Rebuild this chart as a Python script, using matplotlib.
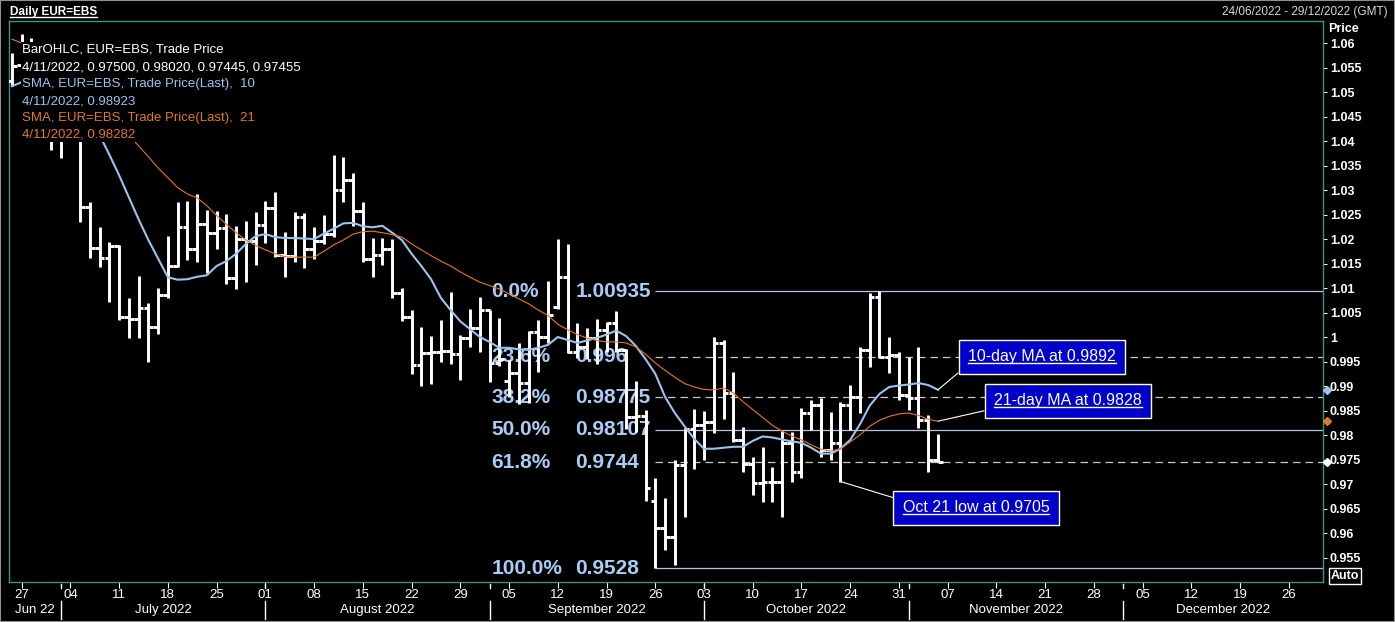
import numpy as np
import pandas as pd
import matplotlib
matplotlib.use("Agg")
import matplotlib.pyplot as plt
from matplotlib.patches import Rectangle
from matplotlib.lines import Line2D
from matplotlib.text import Text
from matplotlib.ticker import FuncFormatter

W, H = 1395, 622

# trading days shown on the axis (24/06/2022 - 29/12/2022)
days = pd.bdate_range("2022-06-24", "2022-12-29")

# daily OHLC, 24 Jun - 4 Nov 2022
opens = [1.0522, 1.0555, 1.0583, 1.0518, 1.0441, 1.0484, 1.0426, 1.0424, 1.0265, 1.0182, 1.0161,
         1.0185, 1.0040, 1.0037, 1.0060, 1.0020,
         1.0085, 1.0145, 1.0225, 1.0180, 1.0230,
         1.0212, 1.0222, 1.0120, 1.0200, 1.0195,
         1.0228, 1.0263, 1.0168, 1.0165, 1.0245,
         1.0180, 1.0195, 1.0210, 1.0300, 1.0320,
         1.0258, 1.0160, 1.0168, 1.0180, 1.0090,
         1.0040, 0.9943, 0.9967, 0.9970, 0.9972,
         0.9965, 0.9998, 1.0018, 1.0055, 0.9946,
         0.9910, 0.9927, 0.9906, 1.0010, 1.0000,
         1.0062, 1.0122, 0.9970, 0.9980, 0.9998,
         1.0014, 1.0028, 0.9973, 0.9837, 0.9838,
         0.9665, 0.9610, 0.9592, 0.9739, 0.9812,
         0.9820, 0.9826, 0.9988, 0.9886, 0.9790,
         0.9740, 0.9702, 0.9705, 0.9704, 0.9784,
         0.9724, 0.9845, 0.9861, 0.9769, 0.9784,
         0.9862, 0.9878, 0.9973, 1.0082, 0.9959,
         0.9963, 0.9882, 0.9876, 0.9831, 0.9750]
highs = [1.0580, 1.0618, 1.0610, 1.0530, 1.0488, 1.0486, 1.0463, 1.0428, 1.0275, 1.0225, 1.0194,
         1.0188, 1.0080, 1.0124, 1.0069, 1.0100,
         1.0206, 1.0275, 1.0278, 1.0292, 1.0260,
         1.0258, 1.0252, 1.0227, 1.0236, 1.0256,
         1.0278, 1.0296, 1.0215, 1.0256, 1.0254,
         1.0224, 1.0250, 1.0372, 1.0368, 1.0334,
         1.0275, 1.0202, 1.0203, 1.0200, 1.0100,
         1.0055, 1.0020, 1.0003, 1.0034, 1.0091,
         1.0004, 1.0058, 1.0081, 1.0056, 1.0038,
         0.9953, 0.9988, 1.0013, 1.0034, 1.0114,
         1.0200, 1.0190, 1.0029, 1.0018, 1.0037,
         1.0031, 1.0053, 0.9975, 0.9910, 0.9851,
         0.9712, 0.9671, 0.9749, 0.9815, 0.9854,
         0.9848, 1.0000, 0.9994, 0.9929, 0.9816,
         0.9755, 0.9776, 0.9734, 0.9808, 0.9806,
         0.9855, 0.9872, 0.9875, 0.9847, 0.9868,
         0.9902, 0.9980, 1.0090, 1.00935, 1.0000,
         0.9969, 0.9959, 0.9980, 0.9841, 0.9802]
lows = [1.0512, 1.0548, 1.0508, 1.0437, 1.0382, 1.0366, 1.0410, 1.0235, 1.0162, 1.0143, 1.0071,
        1.0035, 0.9999, 0.9998, 0.9950, 1.0007,
        1.0080, 1.0143, 1.0157, 1.0153, 1.0130,
        1.0180, 1.0108, 1.0097, 1.0112, 1.0146,
        1.0192, 1.0163, 1.0122, 1.0153, 1.0141,
        1.0160, 1.0190, 1.0205, 1.0276, 1.0226,
        1.0153, 1.0122, 1.0147, 1.0080, 1.0032,
        0.9924, 0.9900, 0.9905, 0.9948, 0.9945,
        0.9912, 0.9980, 0.9970, 0.9908, 0.9940,
        0.9877, 0.9863, 0.9865, 0.9928, 0.9988,
        1.0058, 0.9967, 0.9958, 0.9956, 0.9944,
        0.9969, 0.9970, 0.9812, 0.9806, 0.9665,
        0.9528, 0.9565, 0.9535, 0.9633, 0.9731,
        0.9750, 0.9805, 0.9833, 0.9786, 0.9724,
        0.9678, 0.9664, 0.9664, 0.9632, 0.9704,
        0.9712, 0.9810, 0.9755, 0.9749, 0.9705,
        0.9810, 0.9845, 0.9939, 0.9957, 0.9927,
        0.9871, 0.9851, 0.9814, 0.9725, 0.97445]
closes = [1.0554, 1.0583, 1.0518, 1.0441, 1.0484, 1.0426, 1.0424, 1.0265, 1.0182, 1.0161, 1.0185,
          1.0040, 1.0037, 1.0060, 1.0020, 1.0085,
          1.0145, 1.0225, 1.0180, 1.0230, 1.0212,
          1.0222, 1.0120, 1.0200, 1.0195, 1.0228,
          1.0263, 1.0168, 1.0165, 1.0245, 1.0180,
          1.0195, 1.0210, 1.0300, 1.0320, 1.0258,
          1.0160, 1.0168, 1.0180, 1.0090, 1.0040,
          0.9943, 0.9967, 0.9970, 0.9972, 0.9965,
          0.9998, 1.0018, 1.0055, 0.9946, 0.9955,
          0.9927, 0.9906, 1.0010, 1.0000, 1.0045,
          1.0122, 0.9970, 0.9980, 0.9998, 1.0014,
          1.0028, 0.9973, 0.9837, 0.9838, 0.9692,
          0.9610, 0.9592, 0.9739, 0.9812, 0.9820,
          0.9826, 0.9988, 0.9886, 0.9790, 0.9740,
          0.9702, 0.9705, 0.9704, 0.9784, 0.9724,
          0.9845, 0.9861, 0.9769, 0.9784, 0.9862,
          0.9878, 0.9973, 1.0082, 0.9959, 0.9963,
          0.9882, 0.9876, 0.9831, 0.9749, 0.97455]

# moving averages as plotted
sma10 = [1.0512, 1.0520, 1.0528, 1.0530, 1.0526, 1.0516, 1.0500, 1.0472, 1.0442, 1.0412, 1.0372,
         1.0330, 1.0285, 1.0240, 1.0198, 1.0160,
         1.0122, 1.0117, 1.0118, 1.0123, 1.0126,
         1.0145, 1.0155, 1.0170, 1.0190, 1.0206,
         1.0210, 1.0204, 1.0202, 1.0202, 1.0201,
         1.0200, 1.0211, 1.0221, 1.0232, 1.0233,
         1.0226, 1.0224, 1.0227, 1.0213, 1.0198,
         1.0170, 1.0145, 1.0118, 1.0080, 1.0055,
         1.0032, 1.0016, 1.0000, 0.9990, 0.9978,
         0.9978, 0.9975, 0.9974, 0.9978, 0.9984,
         1.0000, 0.9994, 0.9988, 0.9993, 0.9998,
         1.0005, 1.0013, 1.0002, 0.9982, 0.9955,
         0.9925, 0.9878, 0.9845, 0.9818, 0.9792,
         0.9772, 0.9772, 0.9774, 0.9776, 0.9776,
         0.9788, 0.9797, 0.9795, 0.9791, 0.9787,
         0.9784, 0.9774, 0.9762, 0.9762, 0.9772,
         0.9790, 0.9822, 0.9860, 0.9884, 0.9898,
         0.9901, 0.9903, 0.9906, 0.9902, 0.98923]
sma21 = [1.0608, 1.0600, 1.0592, 1.0580, 1.0572, 1.0560, 1.0545, 1.0525, 1.0505, 1.0485, 1.0465,
         1.0440, 1.0412, 1.0390, 1.0368, 1.0345,
         1.0325, 1.0305, 1.0292, 1.0284, 1.0268,
         1.0248, 1.0230, 1.0213, 1.0198, 1.0187,
         1.0178, 1.0170, 1.0164, 1.0163, 1.0163,
         1.0163, 1.0175, 1.0188, 1.0198, 1.0210,
         1.0215, 1.0216, 1.0213, 1.0209, 1.0204,
         1.0190, 1.0178, 1.0166, 1.0155, 1.0145,
         1.0133, 1.0122, 1.0112, 1.0105, 1.0098,
         1.0088, 1.0078, 1.0068, 1.0055, 1.0044,
         1.0026, 1.0015, 1.0005, 0.9998, 0.9993,
         0.9990, 0.9990, 0.9988, 0.9980, 0.9965,
         0.9947, 0.9932, 0.9918, 0.9905, 0.9898,
         0.9893, 0.9892, 0.9896, 0.9886, 0.9868,
         0.9852, 0.9836, 0.9820, 0.9808, 0.9798,
         0.9790, 0.9780, 0.9771, 0.9767, 0.9772,
         0.9786, 0.9800, 0.9818, 0.9830, 0.9838,
         0.9843, 0.9845, 0.9840, 0.9832, 0.98282]

# Fibonacci retracement (26 Sep low -> 27 Oct high)
fib_pct = ["0.0%", "23.6%", "38.2%", "50.0%", "61.8%", "100.0%"]
fib_val = [1.00935, 0.996, 0.98775, 0.98107, 0.9744, 0.9528]
fib_lbl = ["1.00935", "0.996", "0.98775", "0.98107", "0.9744", "0.9528"]
fib_start = 66  # 26 Sep bar

callouts = ["10-day MA at 0.9892", "21-day MA at 0.9828", "Oct 21 low at 0.9705"]

WHITE = "white"
BLUE = "#9cc3ec"
ORANGE = "#e0782a"
FRAME = "#3a9484"
FIBTXT = "#a8ccf4"


def px(x, y):
    return x / W, 1 - y / H


plt.rcParams["font.family"] = ["Liberation Sans", "DejaVu Sans"]
fig = plt.figure(figsize=(W / 100, H / 100), dpi=100, facecolor="black")
ax = fig.add_axes([9 / W, 1 - 582 / H, (1323 - 9) / W, (582 - 21) / H], facecolor="black")

n = len(closes)
idx = np.arange(n)

# OHLC bars
ax.vlines(idx, lows, highs, color=WHITE, lw=2.1, zorder=3)
ax.hlines(opens, idx - 0.48, idx, color=WHITE, lw=2.1, zorder=3)
ax.hlines(closes, idx, idx + 0.48, color=WHITE, lw=2.1, zorder=3)

# moving averages
ax.plot(idx, sma10, color=BLUE, lw=1.5, zorder=4)
ax.plot(idx, sma21, color=ORANGE, lw=0.8, zorder=4)

xmax = len(days) - 0.5
ax.set_xlim(-0.3, xmax)
ax.set_ylim(0.9500, 1.0645)

# fib levels
for p, v, l in zip(fib_pct, fib_val, fib_lbl):
    if p in ("23.6%", "38.2%", "61.8%"):
        ax.hlines(v, fib_start, xmax, color="#c8c8c8", lw=0.9, linestyles=(0, (6, 4)), zorder=1)
    else:
        ax.hlines(v, fib_start, xmax, color="#b4c8e4", lw=0.9, zorder=1)
    ax.text(49.2, v, p, color=FIBTXT, fontsize=15, fontweight="bold", va="center", ha="left", zorder=2)
    ax.text(57.8, v, l, color=FIBTXT, fontsize=15, fontweight="bold", va="center", ha="left", zorder=2)

# right-edge markers
for v, c in [(sma10[-1], BLUE), (sma21[-1], ORANGE), (closes[-1], WHITE)]:
    ax.plot([1.003], [v], marker="D", ms=4.5, color=c, transform=ax.get_yaxis_transform(),
            clip_on=False, zorder=6)

# callout boxes
box = dict(boxstyle="square,pad=0.6", fc="#0000c8", ec=WHITE, lw=1)
targets = [(n - 1, sma10[-1], (1042, 357), (0, 0)),
           (n - 1, sma21[-1], (1068, 401), (0, 0)),
           (85, lows[85], (976, 508), (0, 1))]
anns = []
for txt, (tx, ty, pos, rp) in zip(callouts, targets):
    anns.append(ax.annotate(txt, xy=(tx, ty), xytext=px(*pos), textcoords="figure fraction",
                            color=WHITE, fontsize=11.5, ha="center", va="center", bbox=box, zorder=7,
                            arrowprops=dict(arrowstyle="-", color=WHITE, lw=0.8, relpos=rp,
                                            shrinkA=0, shrinkB=0)))

# spines / axes
for s in ax.spines.values():
    s.set_color(FRAME)
    s.set_linewidth(1)
ax.yaxis.tick_right()
ax.set_yticks(np.arange(0.955, 1.0601, 0.005))
ax.yaxis.set_major_formatter(FuncFormatter(lambda v, _: f"{v:.3f}".rstrip("0").rstrip(".")))
ax.tick_params(axis="y", colors=WHITE, labelsize=9, length=3, pad=2)
for t in ax.get_yticklabels():
    t.set_fontweight("bold")

mondays = [i for i, d in enumerate(days) if d.weekday() == 0]
ax.set_xticks(mondays)
ax.set_xticklabels([days[i].strftime("%d") for i in mondays])
ax.tick_params(axis="x", colors=WHITE, labelsize=9.5, length=4, pad=1)

# month labels and separators
x0, x1 = ax.get_xlim()
ax_l, ax_r = 9, 1323


def xpix(i):
    return ax_l + (i - x0) / (x1 - x0) * (ax_r - ax_l)


starts = [0]
for i in range(1, len(days)):
    if days[i].month != days[i - 1].month:
        starts.append(i)
bounds = [xpix(s) for s in starts[1:]]
edges = [ax_l] + bounds + [ax_r]
months = ["Jun 22"] + [days[s].strftime("%B %Y") for s in starts[1:]]
for k, m in enumerate(months):
    cx = (edges[k] + edges[k + 1]) / 2
    fig.text(*px(cx, 610), m, color=WHITE, fontsize=9.5, ha="center", va="center")
for b in bounds:
    fig.add_artist(Line2D([b / W, b / W], [1 - 601 / H, 1 - 619 / H], color=WHITE, lw=1))
    fig.add_artist(Line2D([b / W, b / W], [1 - 584 / H, 1 - 588 / H], color=WHITE, lw=1))

# legend block (opaque)
ax.add_patch(Rectangle(px(21, 142), 280 / W, 100 / H, transform=fig.transFigure, fc="black", ec="none",
                       zorder=8, clip_on=False))
legend_lines = [("BarOHLC, EUR=EBS, Trade Price", WHITE),
                ("4/11/2022, 0.97500, 0.98020, 0.97445, 0.97455", WHITE),
                ("SMA, EUR=EBS, Trade Price(Last),  10", BLUE),
                ("4/11/2022, 0.98923", BLUE),
                ("SMA, EUR=EBS, Trade Price(Last),  21", ORANGE),
                ("4/11/2022, 0.98282", ORANGE)]
for k, (s, c) in enumerate(legend_lines):
    ax.text(*px(22, 50 + 17 * k), s, transform=fig.transFigure, color=c, fontsize=9.5,
            ha="left", va="center", zorder=9)

# header and axis captions
title = fig.text(*px(10, 12), "Daily EUR=EBS", color=WHITE, fontsize=8.5, fontweight="bold",
                 ha="left", va="center")
fig.text(*px(1388, 12), "24/06/2022 - 29/12/2022 (GMT)", color="#d8d8d8", fontsize=8.5,
         ha="right", va="center")
fig.text(*px(1328, 29), "Price", color=WHITE, fontsize=9, fontweight="bold", ha="left", va="center")
fig.text(*px(1331, 576), "Auto", color=WHITE, fontsize=9, fontweight="bold", ha="left", va="center",
         bbox=dict(boxstyle="square,pad=0.15", fc="black", ec=WHITE, lw=1))

fig.add_artist(Rectangle((0, 0), 1, 1, transform=fig.transFigure, fc="none", ec="#909090", lw=1.5))

# underline the title and callout texts (text extent only)
fig.canvas.draw()
renderer = fig.canvas.get_renderer()
inv = fig.transFigure.inverted()
for t in [title] + anns:
    bb = Text.get_window_extent(t, renderer)
    (a, b), (c, _) = inv.transform([(bb.x0, bb.y0 + 1.5), (bb.x1, bb.y0 + 1.5)])
    fig.add_artist(Line2D([a, c], [b, b], color=WHITE, lw=1, zorder=10))

fig.savefig("out.png", dpi=100, facecolor="black")
